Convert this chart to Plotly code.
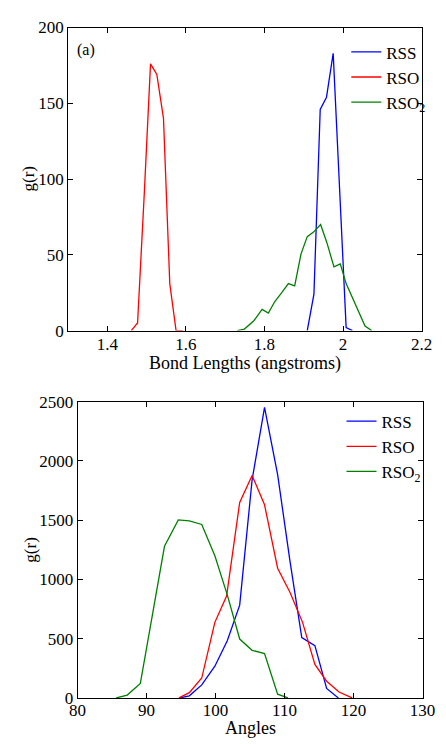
import plotly.graph_objects as go

# ---- Panel (a): bond lengths ----
bond_rss_x = [1.909, 1.926, 1.942, 1.958, 1.975, 1.991, 2.008, 2.024]
bond_rss_y = [0, 24, 146, 154, 183, 95, 2, 0]
bond_rso_x = [1.461, 1.477, 1.494, 1.510, 1.526, 1.543, 1.559, 1.575, 1.592]
bond_rso_y = [0, 5, 90, 176, 169, 140, 31, 0, 0]
bond_rso2_x = [1.731, 1.749, 1.773, 1.794, 1.810, 1.826, 1.844, 1.861, 1.877, 1.893, 1.909,
               1.925, 1.943, 1.959, 1.977, 1.993, 2.008, 2.024, 2.040, 2.056, 2.073]
bond_rso2_y = [0, 1, 6.5, 14, 11.5, 19, 25, 31, 29.5, 50.5, 62, 65, 70, 58, 42, 44, 31, 22, 13, 3, 0]
bond_xticks = [1.4, 1.6, 1.8, 2.0, 2.2]
bond_xticktext = ["1.4", "1.6", "1.8", "2", "2.2"]
bond_yticks = [0, 50, 100, 150, 200]

# ---- Panel (b): angles ----
ang_rss_x = [94.8, 96.2, 98.0, 99.9, 101.7, 103.5, 105.3, 107.1, 109.0, 110.8, 112.5, 114.4, 116.1, 117.8]
ang_rss_y = [0, 18, 110, 268, 482, 783, 1840, 2452, 1885, 1150, 510, 441, 80, 0]
ang_rso_x = [94.7, 96.2, 98.0, 99.9, 101.6, 103.5, 105.3, 107.1, 109.0, 110.8, 112.6, 114.4, 116.1, 117.9, 119.8]
ang_rso_y = [0, 45, 168, 638, 860, 1650, 1878, 1630, 1095, 890, 640, 283, 141, 50, 0]
ang_rso2_x = [85.6, 87.2, 89.1, 90.9, 92.6, 94.6, 96.2, 98.0, 99.9, 101.7, 103.5, 105.3, 107.1, 109.0, 110.5]
ang_rso2_y = [0, 24, 123, 702, 1280, 1503, 1495, 1464, 1200, 870, 497, 402, 375, 32, 0]
ang_xticks = [80, 90, 100, 110, 120, 130]
ang_yticks = [0, 500, 1000, 1500, 2000, 2500]

names = ["RSS", "RSO", "RSO<sub>2</sub>"]
colors = ["#0000FF", "#FF0000", "#008000"]
FONT = "Liberation Serif, Times New Roman, serif"
W, H = 446, 744

fig = go.Figure()
top = [(bond_rss_x, bond_rss_y), (bond_rso_x, bond_rso_y), (bond_rso2_x, bond_rso2_y)]
bot = [(ang_rss_x, ang_rss_y), (ang_rso_x, ang_rso_y), (ang_rso2_x, ang_rso2_y)]
for (x, y), n, c in zip(top, names, colors):
    fig.add_trace(go.Scatter(x=x, y=y, mode="lines", name=n, line=dict(color=c, width=1.3),
                             xaxis="x", yaxis="y", legend="legend"))
for (x, y), n, c in zip(bot, names, colors):
    fig.add_trace(go.Scatter(x=x, y=y, mode="lines", name=n, line=dict(color=c, width=1.3),
                             xaxis="x2", yaxis="y2", legend="legend2"))

def px_x(p):
    return p / W

def px_y(p):
    return 1 - p / H

axis_common = dict(showline=True, linecolor="black", linewidth=1, mirror="allticks",
                   ticks="inside", ticklen=5, tickcolor="black", showgrid=False, zeroline=False,
                   tickfont=dict(family=FONT, size=17, color="black"))

fig.update_layout(
    width=W, height=H,
    margin=dict(l=0, r=0, t=0, b=0),
    paper_bgcolor="white", plot_bgcolor="white",
    font=dict(family=FONT, size=17, color="black"),
    xaxis=dict(domain=[px_x(63), px_x(434)], range=[1.3, 2.2], tickvals=bond_xticks,
               ticktext=bond_xticktext, anchor="y", ticklabelstandoff=-2, **axis_common),
    yaxis=dict(domain=[px_y(330), px_y(19)], range=[0, 200], tickvals=bond_yticks,
               anchor="x", **axis_common),
    xaxis2=dict(domain=[px_x(73), px_x(435)], range=[80, 130], tickvals=ang_xticks,
                anchor="y2", ticklabelstandoff=-3, **axis_common),
    yaxis2=dict(domain=[px_y(707), px_y(403)], range=[0, 2500], tickvals=ang_yticks,
                anchor="x2", **axis_common),
    legend=dict(x=px_x(355), y=px_y(26), xanchor="left", yanchor="top",
                bgcolor="rgba(0,0,0,0)", borderwidth=0, font=dict(family=FONT, size=17),
                itemwidth=30, tracegroupgap=0),
    legend2=dict(x=px_x(350), y=px_y(405), xanchor="left", yanchor="top",
                 bgcolor="rgba(0,0,0,0)", borderwidth=0, font=dict(family=FONT, size=17),
                 itemwidth=30, tracegroupgap=0),
    showlegend=True,
    annotations=[
        dict(text="(a)", x=px_x(70), y=px_y(42), xref="paper", yref="paper",
             xanchor="left", yanchor="middle", showarrow=False, font=dict(family=FONT, size=16)),
        dict(text="Bond Lengths (angstroms)", x=px_x(248.5), y=px_y(364), xref="paper", yref="paper",
             xanchor="center", yanchor="middle", showarrow=False, font=dict(family=FONT, size=18)),
        dict(text="Angles", x=px_x(254), y=px_y(738), xref="paper", yref="paper",
             xanchor="center", yanchor="middle", showarrow=False, font=dict(family=FONT, size=18)),
        dict(text="g(r)", x=px_x(22), y=px_y(174), xref="paper", yref="paper", textangle=-90,
             xanchor="center", yanchor="middle", showarrow=False, font=dict(family=FONT, size=17)),
        dict(text="g(r)", x=px_x(24), y=px_y(555), xref="paper", yref="paper", textangle=-90,
             xanchor="center", yanchor="middle", showarrow=False, font=dict(family=FONT, size=17)),
    ],
)

fig.write_html(
    "out.html",
    config={"displayModeBar": False},
    post_script="document.body.style.margin='0';document.body.style.overflow='hidden';"
                "document.documentElement.style.overflow='hidden';",
)
